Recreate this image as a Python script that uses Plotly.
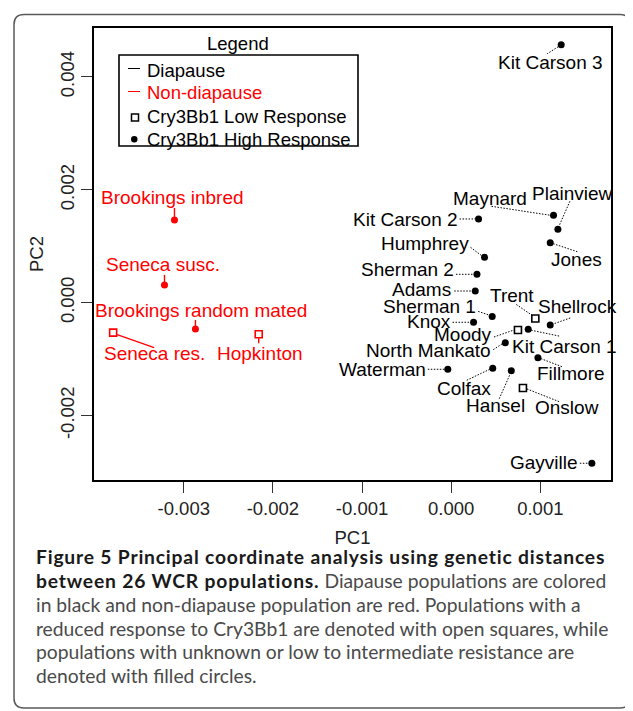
import plotly.graph_objects as go

# ---------------- data ----------------
names = ["Kit Carson 3", "Maynard", "Plainview", "Jones", "Kit Carson 2", "Humphrey",
         "Sherman 2", "Adams", "Sherman 1", "Knox", "Trent", "Shellrock", "Moody",
         "Kit Carson 1", "North Mankato", "Waterman", "Colfax", "Hansel", "Fillmore",
         "Onslow", "Gayville", "Brookings inbred", "Seneca susc.",
         "Brookings random mated", "Seneca res.", "Hopkinton"]
pc1 = [0.001234, 0.001148, 0.001197, 0.001111, 0.000307, 0.000374, 0.000289, 0.000270,
       0.000460, 0.000251, 0.000944, 0.001111, 0.000749, 0.000864, 0.000607, -0.000038,
       0.000466, 0.000674, 0.000973, 0.000805, 0.001578, -0.003104, -0.003216, -0.002869,
       -0.003792, -0.002159]
pc2 = [0.00457, 0.001548, 0.0013, 0.001063, 0.001483, 0.000804, 0.000503, 0.000207,
       -0.000243, -0.000347, -0.00028, -0.000395, -0.000484, -0.000471, -0.000709, -0.00118,
       -0.001162, -0.001205, -0.000974, -0.001511, -0.002845, 0.001465, 0.000314, -0.000466,
       -0.000531, -0.00056]
diapause = [True] * 21 + [False] * 5
response = ["high"] * 26
for n in ["Trent", "Moody", "Onslow", "Seneca res.", "Hopkinton"]:
    response[names.index(n)] = "low"

x_tick_vals = [-0.003, -0.002, -0.001, 0.0, 0.001]
x_tick_labels = ["-0.003", "-0.002", "-0.001", "0.000", "0.001"]
y_tick_vals = [-0.002, 0.0, 0.002, 0.004]
y_tick_labels = ["-0.002", "0.000", "0.002", "0.004"]
legend_title = "Legend"
legend_labels = ["Diapause", "Non-diapause", "Cry3Bb1 Low Response", "Cry3Bb1 High Response"]
caption_bold = ["Figure 5 Principal coordinate analysis using genetic distances",
                "between 26 WCR populations.", "", "", "", ""]
caption_rest = ["", " Diapause populations are colored",
                "in black and non-diapause population are red. Populations with a",
                "reduced response to Cry3Bb1 are denoted with open squares, while",
                "populations with unknown or low to intermediate resistance are",
                "denoted with filled circles."]

# ---------------- layout / styling ----------------
OFF = 8                      # page body margin of the html page
W, H = 633 - OFF, 711 - OFF
ML, MR, MT, MB = 86, 22, 20, 231
PW, PH = W - ML - MR, H - MT - MB
RED = "#ff0000"
BLACK = "#000000"
LFONT = "Liberation Sans, Arial, sans-serif"

def px2p(px, py):
    """page pixel -> paper coordinates"""
    return (px - OFF - ML) / PW, (H - MB - (py - OFF)) / PH

# label placement: anchor, dx, dy (screen px from point), leader (x0,y0,x1,y1) screen px
place = {
    "Kit Carson 3": ("center", -11, 18, (-3, 2, -14, 9)),
    "Maynard": ("center", -64, -17, (-62, -9, -3, 0)),
    "Plainview": ("left", -28, -36, (12, -28, 1, -3)),
    "Jones": ("left", -1, 17, (3, 1, 27, 9)),
    "Kit Carson 2": ("right", -19, 1, (-19, 0, -3, 0)),
    "Humphrey": ("right", -14, -14, (-14, -10, -2, -1)),
    "Sherman 2": ("right", -21, -5, (-21, 0, -3, 0)),
    "Adams": ("right", -22, -2, (-21, 0, -3, 0)),
    "Sherman 1": ("right", -14, -10, (-14, -5, -2, -1)),
    "Knox": ("right", -21, -1, (-21, 0, -3, 0)),
    "Trent": ("center", -23, -23, (-19, -14, -3, -3)),
    "Shellrock": ("left", -14, -18, (20, -7, 3, -1)),
    "Moody": ("right", -24, 4, (-24, 7, -4, 0)),
    "Kit Carson 1": ("left", -18, 17, (3, 1, 32, 7)),
    "North Mankato": ("right", -12, 8, (-12, 7, -3, 1)),
    "Waterman": ("right", -20, 0, (-20, 0, -3, 0)),
    "Colfax": ("center", -29, 20, (-26, 12, -3, 1)),
    "Hansel": ("center", -16, 35, (-12, 28, -1, 3)),
    "Fillmore": ("left", -3, 16, (3, 1, 24, 9)),
    "Onslow": ("left", 10, 20, (4, 1, 37, 14)),
    "Gayville": ("right", -12, -1, (-12, 0, -3, 0)),
    "Brookings inbred": ("center", -2, -22, (0, -12, 0, -3)),
    "Seneca susc.": ("center", -2, -20, (0, -10, 0, -3)),
    "Brookings random mated": ("center", 6, -18, (0, -9, 0, -3)),
    "Seneca res.": ("center", 41, 21, (4, 2, 41, 15)),
    "Hopkinton": ("center", 1, 19, (0, 4, 0, 9)),
}

def ext(v):
    lo, hi = min(v), max(v)
    d = (hi - lo) * 0.04
    return [lo - d, hi + d]

fig = go.Figure()

groups = [(True, "high"), (True, "low"), (False, "high"), (False, "low")]
for dia, resp in groups:
    idx = [i for i in range(len(names)) if diapause[i] == dia and response[i] == resp]
    col = BLACK if dia else RED
    if resp == "high":
        marker = dict(symbol="circle", size=7, color=col, line=dict(width=0))
    else:
        marker = dict(symbol="square-open", size=7, color=col, line=dict(width=1.6, color=col))
    fig.add_trace(go.Scatter(x=[pc1[i] for i in idx], y=[pc2[i] for i in idx],
                             mode="markers", marker=marker, showlegend=False,
                             hoverinfo="text", text=[names[i] for i in idx]))

shapes = []
annotations = []
for i, n in enumerate(names):
    anchor, dx, dy, (l0x, l0y, l1x, l1y) = place[n]
    col = BLACK if diapause[i] else RED
    shapes.append(dict(type="line", xref="x", yref="y", xsizemode="pixel", ysizemode="pixel",
                       xanchor=pc1[i], yanchor=pc2[i], x0=l0x, x1=l1x, y0=-l0y, y1=-l1y,
                       line=dict(color=col, width=1 if diapause[i] else 1.4,
                                 dash="1.5px,1.5px" if diapause[i] else "solid"),
                       layer="above"))
    annotations.append(dict(x=pc1[i], y=pc2[i], xref="x", yref="y", text=n, showarrow=False,
                            xanchor=anchor, yanchor="middle", xshift=dx, yshift=-dy,
                            font=dict(family=LFONT, size=19, color=col)))

# legend (drawn manually)
bx0, by0 = px2p(119, 55)
bx1, by1 = px2p(358, 146)
shapes.append(dict(type="rect", xref="paper", yref="paper", x0=bx0, y0=by1, x1=bx1, y1=by0,
                   line=dict(color=BLACK, width=1.6), fillcolor="rgba(0,0,0,0)"))
tx, ty = px2p(238, 43)
annotations.append(dict(x=tx, y=ty, xref="paper", yref="paper", text=legend_title,
                        showarrow=False, xanchor="center", yanchor="middle",
                        font=dict(family=LFONT, size=18.5, color=BLACK)))
ent_y = [70, 93, 116.5, 139]
ent_col = [BLACK, RED, BLACK, BLACK]
for k, lab in enumerate(legend_labels):
    x, y = px2p(145, ent_y[k])
    annotations.append(dict(x=x, y=y, xref="paper", yref="paper", text=lab, showarrow=False,
                            xanchor="left", yanchor="middle",
                            font=dict(family=LFONT, size=18.5, color=ent_col[k])))
for k in (0, 1):
    a = px2p(128, ent_y[k] - 1.5)
    b = px2p(140, ent_y[k] - 1.5)
    shapes.append(dict(type="line", xref="paper", yref="paper", x0=a[0], y0=a[1], x1=b[0], y1=b[1],
                       line=dict(color=ent_col[k], width=1)))
a = px2p(131.5, ent_y[2] - 2.5)
b = px2p(138.5, ent_y[2] + 4.5)
shapes.append(dict(type="rect", xref="paper", yref="paper", x0=a[0], y0=b[1], x1=b[0], y1=a[1],
                   line=dict(color=BLACK, width=1.5), fillcolor="rgba(0,0,0,0)"))
a = px2p(131, ent_y[3] - 3)
b = px2p(137.5, ent_y[3] + 3.5)
shapes.append(dict(type="circle", xref="paper", yref="paper", x0=a[0], y0=b[1], x1=b[0], y1=a[1],
                   line=dict(color=BLACK, width=0), fillcolor=BLACK))

# outer rounded frame
fx0, fy0, fx1, fy1, r = 14, 14.5, 630, 708, 10
def P(px, py):
    x, y = px2p(px, py)
    return f"{x:.5f},{y:.5f}"
path = (f"M {P(fx0 + r, fy0)} L {P(fx1 - r, fy0)} Q {P(fx1, fy0)} {P(fx1, fy0 + r)} "
        f"L {P(fx1, fy1 - r)} Q {P(fx1, fy1)} {P(fx1 - r, fy1)} "
        f"L {P(fx0 + r, fy1)} Q {P(fx0, fy1)} {P(fx0, fy1 - r)} "
        f"L {P(fx0, fy0 + r)} Q {P(fx0, fy0)} {P(fx0 + r, fy0)} Z")
shapes.append(dict(type="path", xref="paper", yref="paper", path=path,
                   line=dict(color="#5a5a5a", width=1.5), fillcolor="rgba(0,0,0,0)", layer="below"))

# caption
cap_y = [556, 580, 604, 628, 651.5, 675]
for k in range(len(caption_rest)):
    txt = ""
    if caption_bold[k]:
        txt += (f"<b><span style='color:#1a1a1a;letter-spacing:0.8px'>"
                f"{caption_bold[k]}</span></b>")
    if caption_rest[k]:
        txt += f"<span style='color:#4a4a4a'>{caption_rest[k]}</span>"
    x, y = px2p(34, cap_y[k])
    annotations.append(dict(x=x, y=y, xref="paper", yref="paper", text=txt, showarrow=False,
                            xanchor="left", yanchor="middle",
                            font=dict(family="Lato, Open Sans, sans-serif", size=19.3, color="#4a4a4a")))

fig.update_layout(
    width=W, height=H, margin=dict(l=ML, r=MR, t=MT, b=MB, autoexpand=False),
    paper_bgcolor="white", plot_bgcolor="white",
    shapes=shapes, annotations=annotations, showlegend=False,
    xaxis=dict(range=ext(pc1), tickvals=x_tick_vals, ticktext=x_tick_labels,
               showgrid=False, zeroline=False, showline=True, mirror=True,
               linecolor=BLACK, linewidth=1.5, ticks="outside", ticklen=11, tickwidth=1.3,
               tickcolor="#333", tickfont=dict(family=LFONT, size=18.5, color="#222"),
               title=dict(text="PC1", font=dict(family=LFONT, size=18.5, color="#222"), standoff=13)),
    yaxis=dict(range=ext(pc2), tickvals=y_tick_vals, ticktext=y_tick_labels, tickangle=-90,
               showgrid=False, zeroline=False, showline=True, mirror=True,
               linecolor=BLACK, linewidth=1.5, ticks="outside", ticklen=11, tickwidth=1.3,
               tickcolor="#333", tickfont=dict(family=LFONT, size=18.5, color="#222"),
               title=dict(text="PC2", font=dict(family=LFONT, size=18.5, color="#222"), standoff=8)),
)

fig.write_html("out.html")
